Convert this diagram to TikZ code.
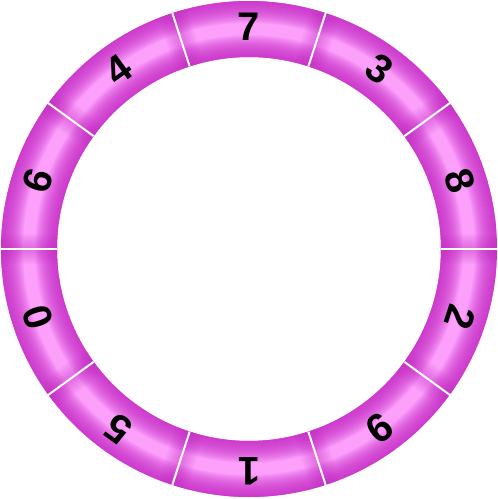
\documentclass[tikz,border=0pt]{standalone}
\usepackage{fontspec}
\setmainfont{Liberation Sans}
\usepackage{xcolor}
\definecolor{segLight}{HTML}{FCA0FC}
\definecolor{segDark} {HTML}{C82CC8}
\newcommand\ringseg[1]{(#1-18:192) arc[start angle=#1-18, end angle=#1+18, radius=192]
    -- (#1+18:248) arc[start angle=#1+18, end angle=#1-18, radius=248] -- cycle}
\tikzset{
    digit/.style={font=\fontsize{40}{40}\selectfont\bfseries, inner sep=0pt},
    glow/.style={draw=segDark, opacity=0.075},
    sideglow/.style={draw=segDark, opacity=0.05},
    segcut/.style={draw=white, line width=2pt},
}

\begin{document}
\begin{tikzpicture}[x=1pt, y=1pt]
    \useasboundingbox (-249,-250) rectangle (249,249);
    \foreach \a/\d in {90/7, 54/3, 18/8, -18/2, -54/9, -90/1, -126/5, -162/0, 162/6, 126/4} {
        \begin{scope}
            \clip \ringseg{\a};
            \fill[segLight] \ringseg{\a};
            \foreach \w in {2,4,...,44}
                \draw[glow, line width=\w*1pt]
                    (\a-22:192) arc[start angle=\a-22, end angle=\a+22, radius=192]
                    (\a-22:248) arc[start angle=\a-22, end angle=\a+22, radius=248];
            \foreach \w in {3,6,...,30}
                \draw[sideglow, line width=\w*1pt]
                    (\a-18:170) -- (\a-18:270) (\a+18:170) -- (\a+18:270);
        \end{scope}
        \node[digit, rotate=\a-90] (d\d) at (\a:222) {\d};
    }
    \foreach \b in {0,36,...,324}
        \draw[segcut] (\b:192) -- (\b:249);
\end{tikzpicture}
\end{document}
